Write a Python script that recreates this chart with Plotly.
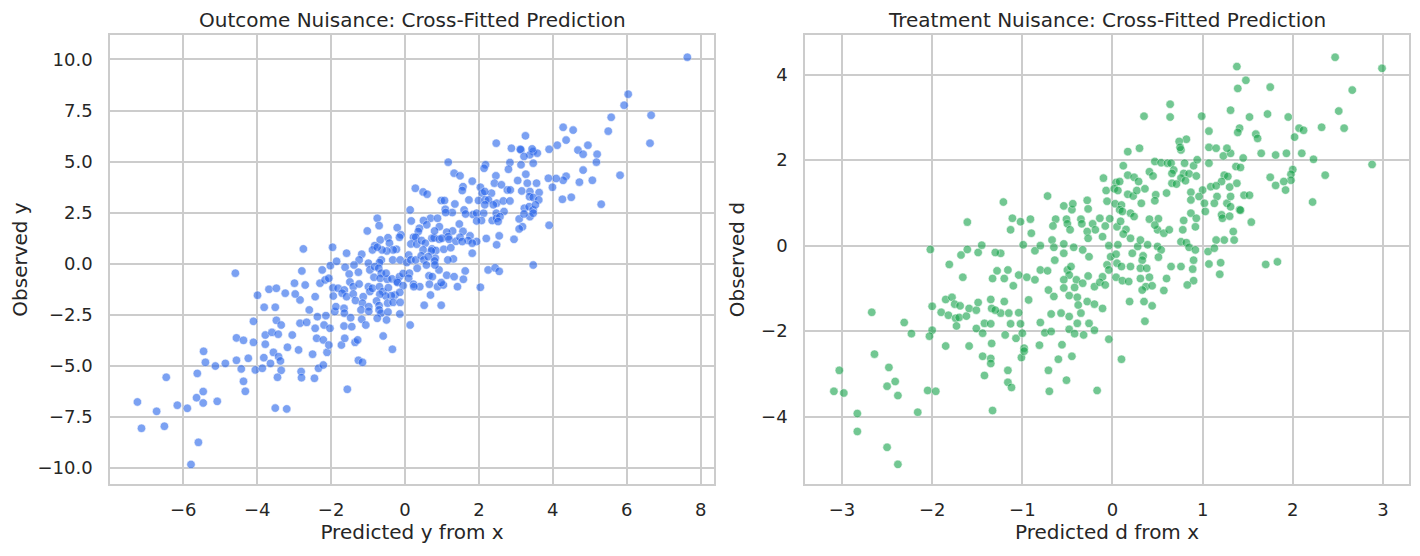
import plotly.graph_objects as go
from plotly.subplots import make_subplots

# Outcome nuisance: predicted y (cross-fitted) vs observed y
outcome_pred = [
    3.14, 3.47, 3.38, 3.22, 3.58, 1.17, 2.18, 2.14, 2.84, 3.14, 2.80, 3.47, 1.33, 1.49, 2.46, 1.82, 2.42, 2.61, 3.27, 3.05,
    3.31, 3.56, 1.57, 1.55, 2.04, 0.28, 0.49, 0.60, 2.77, 2.85, 3.16, 3.38, 3.63, 2.34, 2.09, 2.16, 0.98, 1.07, 1.35, 1.73,
    1.99, 2.17, 2.26, 2.48, 2.66, 2.84, 3.37, 3.47, 3.62, 1.09, 1.28, 1.10, 1.60, 1.84, 1.64, 1.94, 2.13, 2.47, 2.68, 3.23,
    3.36, 3.47, 3.53, 2.16, 2.39, 0.14, 0.69, 0.88, 0.50, 0.93, 0.59, 0.39, 0.36, 0.17, 1.47, 1.29, 1.13, 1.17, 1.57, 1.76,
    1.71, 1.94, 2.07, 1.94, 2.36, 2.48, 2.57, 2.52, 3.09, 3.18, 3.09, 3.38, 3.47, 3.22,
    -0.75, -0.70, -0.21, -0.11, -0.15, -1.02, -0.67, -0.46, -0.42, -0.23, -0.32, -0.82, -0.88, -0.49, -0.62, -0.75, 0.23, 0.29,
    0.16, 0.32, 0.45, 0.55, 0.73, 0.79, 0.93, 1.00, 1.19, 0.80, 0.73, 0.84, 0.71, 0.49, 1.05, 0.82, 1.24, 1.38, 1.49, 1.55,
    1.82, 1.82, 2.20, 2.55, 2.48, 2.95, 3.47,
    -2.75, -1.96, -1.58, -1.17, -1.24, -1.38, -0.64, -0.69, -0.33, -0.13, 0.10, 0.05, 0.16, 0.29, 0.44, 0.51, 0.33, 0.58,
    0.63, 0.80, 1.31, 1.16, 0.92, 0.81, 0.65, 1.13, 1.33, 1.63, 1.58, 0.88, 1.04, 1.42, 2.04, 2.25, 2.44, 2.55,
    -2.79, -2.24, -2.02, -1.85, -1.62, -1.26, -0.99, -0.95, -0.82, -0.71, -0.64, -0.84, -0.67, -0.48, -0.51, -0.35, -0.22,
    -0.15, -0.05, 0.12, 0.10, 0.23, 0.40, 0.74, 0.98, 0.66,
    -2.70, -2.30, -2.16, -2.06, -1.95, -1.81, -1.64, -1.51, -1.49, -1.40, -1.24, -0.99, -0.95, -1.13, -0.88, -0.69, -0.60,
    -0.45, -0.27, -0.20, -0.05, -0.14, -0.37, -0.52, -0.68, 0.69, 0.52, 0.98, 0.24,
    -2.43, -1.94, -1.70, -1.58, -1.40, -1.34, -1.15, -0.98, -1.19, -0.98, -0.77, -0.70, -0.47, -0.32, -0.13, -0.70, -0.65,
    -0.46, -0.14, -2.84, -2.84, -2.66, -2.59, -2.37, -2.14, -1.90, -1.87, -1.65, -1.64, -1.47, -1.65, -1.44, -1.17, -1.06,
    -0.75, -0.50, 0.14, -2.43, -2.19, -2.03,
    -4.59, -3.99, -3.68, -3.48, -3.81, -3.51, -3.24, -2.99, -2.97, -3.48, -4.10, -3.35, -3.78, -3.60, -3.43, -3.05, -4.56,
    -4.37, -4.10, -3.78, -3.18, -5.45, -5.40, -5.13, -4.86, -4.56, -4.24, -4.43, -4.05, -3.86, -3.82, -3.64, -3.56, -3.42,
    -3.37, -3.35, -3.45, -4.37, -4.32, -5.62, -6.46, -5.46, -5.64, -5.08, -5.46, -5.89, -6.16, -6.72, -7.24, -7.13, -6.51,
    -5.59, -5.79, -3.51, -3.20, -2.81, -2.80, -2.45, -2.50, -2.34, -2.21, -2.11, -2.88, -2.39, -2.21, -2.06, -1.56, -1.26,
    -1.15, -1.72, -1.35, -1.28, -0.59, -0.34, -1.63,
    7.64, 6.04, 5.93, 6.66, 6.63, 5.58, 5.50, 4.28, 4.55, 4.36, 4.12, 3.90, 4.95, 4.68, 4.82, 5.20, 5.18, 4.82, 5.07, 4.72,
    5.82, 5.31, 4.36, 4.28, 4.09, 3.88, 3.99, 4.26, 4.50, 3.90, 3.26, 2.47, 2.88, 3.12, 3.44,
]
outcome_obs = [
    5.57, 5.49, 5.33, 5.25, 5.41, 4.97, 4.84, 4.67, 4.95, 4.84, 4.62, 4.92, 4.43, 4.30, 4.30, 4.04, 3.94, 3.86, 4.38, 4.07,
    3.94, 3.94, 3.77, 3.58, 3.74, 3.69, 3.51, 3.40, 3.61, 3.61, 3.56, 3.53, 3.48, 3.45, 3.45, 3.53, 3.09, 3.09, 2.92, 3.12,
    3.09, 3.12, 3.12, 2.96, 3.07, 3.07, 3.28, 3.24, 3.12, 2.66, 2.50, 2.50, 2.63, 2.40, 2.43, 2.47, 2.47, 2.47, 2.55, 2.71,
    2.79, 2.63, 2.88, 2.88, 2.88, 2.63, 2.22, 2.22, 2.11, 1.81, 1.90, 1.73, 1.57, 2.09, 1.94, 1.60, 1.54, 1.32, 1.58, 1.36,
    1.13, 1.08, 2.11, 2.09, 2.11, 2.22, 2.30, 2.06, 2.19, 1.81, 1.70, 2.30, 2.47, 2.43,
    2.22, 1.86, 1.76, 1.41, 1.29, 1.60, 1.16, 1.27, 1.00, 0.70, 0.67, 0.88, 0.67, 0.62, 0.67, 0.80, 1.29, 1.29,
    0.96, 0.95, 1.13, 1.00, 1.24, 1.26, 1.19, 1.24, 1.19, 1.60, 0.72, 0.64, 0.62, 0.67, 0.70, 0.26, 0.78, 1.09, 1.29, 1.08,
    1.00, 0.51, 1.23, 1.36, 0.92, 1.19, -0.07,
    0.72, 0.80, 0.51, 0.46, 0.18, -0.07, 0.18, 0.05, 0.18, 0.18, 0.42, 0.05, 0.18, 0.18, 0.38, 0.18, -0.23, -0.07,
    0.34, 0.13, 0.23, 0.18, -0.31, -0.07, -0.60, -0.57, -0.64, -0.36, -0.77, -1.13, -1.05, -1.13, -1.16, -0.31, -0.21, -0.38,
    -0.36, -0.31, -0.10, 0.11, -0.18, -0.42, 0.02, -0.31, -0.15, -0.23, -0.47, -0.67, -0.72, -0.77, -0.47, -0.75, -0.88,
    -0.64, -0.49, -0.47, -0.72, -1.01, -1.13, -0.64, -0.93, -1.01,
    -1.05, -0.96, -0.80, -0.72, -1.19, -1.21, -1.29, -0.51, -0.90, -1.13, -1.00, -1.13, -1.37, -1.62, -1.21, -1.13, -1.37,
    -1.18, -1.54, -0.93, -1.08, -1.41, -1.57, -1.59, -1.50, -1.54, -2.04, -2.04, -1.13,
    -1.62, -1.59, -1.45, -1.62, -1.49, -1.81, -1.94, -2.11, -2.27, -2.34, -1.83, -2.06, -1.94, -1.90, -1.90, -2.27, -2.43,
    -2.37, -2.47, -1.78, -2.92, -2.88, -2.27, -2.60, -2.55, -2.35, -2.11, -2.19, -2.43, -2.65, -3.06, -3.09, -2.73, -3.01,
    -2.68, -2.76, -3.01, -3.17, -3.01, -3.17,
    -0.47, -1.55, -1.26, -1.21, -2.14, -2.14, -1.45, -0.96, -1.49, -2.78, -2.83, -3.01, -3.50, -3.37, -3.46, -3.50, -3.64,
    -3.76, -3.86, -3.95, -4.10, -4.30, -4.84, -5.02, -4.89, -4.74, -4.64, -5.16, -5.21, -5.13, -4.61, -4.89, -4.35, -4.56,
    -4.77, -5.23, -5.57, -5.77, -6.26, -5.38, -5.57, -6.27, -6.57, -6.75, -6.83, -7.09, -6.94, -7.24, -6.78, -8.07, -7.97,
    -8.76, -9.84, -7.08, -7.12, -5.29, -5.59, -5.62, -4.44, -5.13, -4.97, -4.35, -4.23, -3.66, -3.74, -3.99, -6.16, -4.74,
    -4.84, -3.99, -3.86, -3.74, -3.55, -4.20, -3.66,
    10.11, 8.30, 7.76, 7.27, 5.90, 7.17, 6.49, 6.68, 6.54, 6.05, 5.80, 5.60, 5.80, 5.56, 5.36, 5.36, 4.97, 4.58, 4.08, 3.99,
    4.33, 2.91, 4.28, 4.08, 4.17, 4.18, 3.74, 3.15, 3.25, 1.88, 6.26, 5.90, 5.65, 5.60, 5.62,
]

# Treatment nuisance: predicted d (cross-fitted) vs observed d
treatment_pred = [
    0.17, 0.76, 1.23, 1.31, 0.47, 0.54, 0.61, 0.65, 0.80, 0.90, 0.94, 1.07, 1.37, 0.12, 0.41, 0.45, 0.68, 0.66, 0.17, 0.24,
    0.29, 0.79, 0.85, 0.93, 0.76, 0.81, 0.66, 0.71, 1.24, 1.28, 1.21, 1.38, 1.09, 1.15, -0.10, 0.04, 0.08, -0.07, 0.02, 0.06,
    0.17, 0.23, 0.27, 0.36, 0.48, 0.47, 0.60, 0.87, 1.00, 1.30, 0.87, 0.96, 1.16, 1.13, 1.27, 1.41, 1.31,
    -0.72, -1.21, -0.54, -0.45, -0.44, -0.28, -0.27, -0.06, 0.03, 0.10, 0.08, 0.11, 0.20, 0.24, 0.32, 0.41, 0.51, 0.50,
    0.47, 0.57, 0.63, 0.78, 0.79, 0.87, 0.93, 0.92, 1.02, 1.03, 1.21, 1.22, 1.30, 1.31, 1.34, 1.24, 1.35,
    -1.11, -1.02, -0.91, -1.13, -0.90, -0.63, -0.66, -0.51, -0.50, -0.47, -0.35, -0.34, -0.22, -0.14, -0.03, -0.08, -0.19,
    -0.28, -0.27, -0.11, 0.05, 0.09, 0.15, 0.12, 0.20, 0.28, 0.31, 0.39, 0.50, 0.54, 0.51, 0.34, 0.33, 0.31, 0.41, 0.38,
    0.65, 0.76, 0.76, 0.82, 0.85, 0.90, 0.92, 0.89, 0.90, 0.83, 1.07, 1.19, 1.20, 1.06, 1.15, 1.13,
    -0.99, -0.86, -0.80, -0.67, -0.65, -0.64, -0.54, -0.54, -0.43, -0.33, -0.26, -0.04, -0.02, 0.04, 0.05, 0.10, 0.20,
    0.22, 0.06, -0.06, -0.04, -0.11, 0.04, 0.11, 0.18, 0.31, 0.37, 0.44, 0.33, 0.57, 0.60, 0.35, 0.44, 0.19, 0.36,
    -1.24, -1.16, -1.04, -0.95, -1.20, -1.10, -0.86, -0.80, -0.72, -0.50, -0.46, -0.48, -0.40, -0.33, -0.27, -0.20, -0.14,
    -0.08, -0.54, -0.71, -0.65, -0.54, -0.48, -0.42, -0.39, -0.28, -0.20, -0.11, -0.38,
    -1.20, -1.24, -1.15, -1.04, -0.93, -1.13, -1.02, -1.19, -1.07, -1.00, -0.98, -0.80, -0.68, -0.57, -0.48, -0.35, -0.75,
    -0.68, -0.81, -0.56, -0.48, -0.42, -0.39, -0.32, -0.26, -0.20, -0.04,
    -2.02, -1.81, -1.68, -1.61, -1.61, -1.49, -1.45, -1.30,
    2.47, 2.99, 1.38, 1.48, 1.39, 1.75, 2.66, 0.64, 0.35, 0.64, 0.99, 1.31, 1.52, 1.72, 1.95, 2.51, 2.07, 2.12, 2.32, 2.57,
    2.02, 1.41, 1.39, 1.59, 1.61, 1.07, 0.82, 0.74, 0.75, 0.30, 1.07, 1.15, 1.27, 1.65, 1.81, 1.93, 2.10, 2.23, 1.45, 1.42,
    2.00, 1.98, 1.98, 1.90, 1.75, 1.81, 1.92, 2.36, 2.22, 2.88, 1.54, 1.46, 1.52, 1.42, 1.70, 1.83,
    -2.67, -2.31, -2.23, -2.00, -2.00, -2.03, -1.66, -1.85, -1.78, -1.75, -1.69, -1.90, -1.82, -1.74, -1.70, -1.73, -1.62,
    -1.59, -1.51, -1.49, -1.51, -1.44, -1.42, -1.35, -1.35, -1.34, -1.30, -1.28, -1.33, -1.85, -1.59, -1.34, -2.64, -2.48,
    -3.03, -3.09, -2.98, -2.41, -2.50, -2.38, -2.83, -2.83, -2.16, -2.05, -1.96, -2.50, -2.38, -1.44, -1.35, -1.35, -1.42,
    -1.33, -1.16, -1.16, -1.12, -1.01, -0.98, -0.71, -0.70, -0.51, -0.60, -0.45, -0.17, 0.10,
]
treatment_obs = [
    2.20, 2.24, 2.10, 2.16, 1.97, 1.94, 1.93, 1.93, 1.93, 1.87, 2.01, 1.93, 1.85, 1.87, 1.73, 1.63, 1.77, 1.69, 1.65, 1.60,
    1.50, 1.69, 1.68, 1.63, 1.58, 1.52, 1.46, 1.44, 1.65, 1.62, 1.50, 1.46, 1.38, 1.40, 1.58, 1.48, 1.50, 1.29, 1.33, 1.29,
    1.20, 1.16, 1.29, 1.33, 1.19, 1.05, 1.23, 1.25, 1.30, 1.37, 1.07, 1.15, 1.15, 0.99, 0.99, 0.84, 1.15,
    1.16, 1.02, 0.93, 0.84, 0.98, 1.06, 0.86, 1.04, 0.98, 0.95, 0.84, 0.80, 0.76, 0.68, 0.99, 0.62, 0.63, 0.37,
    0.48, 0.29, 0.37, 0.37, 0.59, 0.76, 0.64, 0.44, 0.99, 0.80, 0.72, 0.64, 0.69, 0.91, 0.33, 0.13, 0.13,
    0.64, 0.56, 0.62, 0.37, 0.29, 0.62, 0.46, 0.62, 0.51, 0.37, 0.62, 0.51, 0.51, 0.64, 0.63, 0.46, 0.37,
    0.33, 0.17, 0.21, 0.44, 0.57, 0.38, 0.27, 0.17, -0.02, 0.13, 0.02, -0.02, -0.10, -0.27, -0.24, -0.34, -0.53, -0.74, -0.53,
    -0.49, -0.49, 0.09, 0.07, -0.04, -0.34, -0.10, -0.55, -0.82, -0.92, -0.43, -0.67, -0.40, -0.14, 0.13, -0.06,
    0.02, -0.12, 0.00, 0.13, -0.04, -0.34, 0.04, -0.18, -0.04, -0.10, -0.26, 0.00, -0.26, -0.20, -0.41, -0.49, -0.49,
    -0.18, 0.02, -0.45, -0.57, -0.73, -0.74, -0.82, -0.84, -0.77, -0.96, -0.94, -1.04, -1.05, -0.77, -1.31, -1.41, -1.31, -1.77,
    -0.18, -0.57, -0.69, -0.74, -0.77, -0.94, -0.80, -0.57, -0.59, -0.57, -0.49, -0.69, -0.80, -0.88, -0.71, -0.96, -0.86,
    -0.92, -0.80, -1.04, -1.19, -0.99, -1.17, -0.98, -1.21, -1.31, -1.37, -1.47, -1.39,
    -1.31, -1.58, -1.58, -1.57, -1.27, -1.83, -1.83, -2.09, -2.17, -2.05, -2.40, -1.80, -1.60, -1.58, -1.66, -1.58, -2.04,
    -2.01, -2.33, -2.32, -1.96, -2.06, -1.82, -2.09, -1.82, -1.98, -2.19,
    -0.09, -0.44, -0.22, -0.09, 0.55, -0.16, 0.01, -0.16,
    4.41, 4.15, 4.19, 3.87, 3.68, 3.71, 3.64, 3.31, 3.03, 3.01, 3.03, 3.17, 3.01, 3.08, 3.01, 3.15, 2.75, 2.70, 2.77, 2.75,
    2.54, 2.75, 2.65, 2.61, 2.51, 2.68, 2.49, 2.44, 2.30, 2.28, 2.30, 2.28, 2.28, 2.16, 2.12, 2.16, 2.16, 2.02, 2.05, 1.83,
    1.78, 1.67, 1.53, 1.50, 1.60, 1.41, 1.30, 1.65, 1.02, 1.90, 0.55, 1.18, 1.18, 0.83, -0.44, -0.38,
    -1.56, -1.80, -2.06, -1.42, -1.98, -2.12, -0.74, -1.26, -1.21, -1.37, -1.41, -1.56, -1.63, -1.70, -1.68, -1.88, -1.65,
    -1.47, -1.51, -1.33, -1.94, -2.05, -1.82, -1.83, -1.26, -1.47, -1.51, -0.59, -0.77, -2.35, -2.35, -2.29, -2.54, -2.85,
    -2.92, -3.41, -3.45, -3.18, -3.29, -3.51, -3.93, -4.35, -3.90, -3.39, -3.41, -4.72, -5.12, -2.59, -2.64, -2.76, -3.04,
    -3.86, -2.92, -3.20, -3.32, -2.62, -2.47, -2.92, -3.41, -3.15, -2.66, -2.59, -3.39, -2.66,
]

titles = ["Outcome Nuisance: Cross-Fitted Prediction", "Treatment Nuisance: Cross-Fitted Prediction"]
x_labels = ["Predicted y from x", "Predicted d from x"]
y_labels = ["Observed y", "Observed d"]
outcome_yticks = [-10.0, -7.5, -5.0, -2.5, 0.0, 2.5, 5.0, 7.5, 10.0]
treatment_yticks = [-4, -2, 0, 2, 4]

TEXT = "#262626"
GRID = "#cccccc"
FONT = "DejaVu Sans"

# panel domains (page has an 8px body margin around the 1404x540 figure)
LEFT_X = [0.0727, 0.5028]
RIGHT_X = [0.5677, 0.9979]
PANEL_Y = [0.1185, 0.950]

fig = make_subplots(rows=1, cols=2, subplot_titles=titles)

fig.add_trace(go.Scatter(
    x=outcome_pred, y=outcome_obs, mode="markers", showlegend=False,
    marker=dict(color="#2563eb", opacity=0.6, size=8.5, line=dict(color="white", width=0.6)),
), row=1, col=1)
fig.add_trace(go.Scatter(
    x=treatment_pred, y=treatment_obs, mode="markers", showlegend=False,
    marker=dict(color="#16a34a", opacity=0.6, size=8.5, line=dict(color="white", width=0.6)),
), row=1, col=2)

axis_style = dict(
    showgrid=True, gridcolor=GRID, gridwidth=1.5, zeroline=False,
    showline=True, linecolor=GRID, linewidth=1.7, mirror=True,
    ticks="",
    tickfont=dict(family=FONT, size=18, color=TEXT),
    title_font=dict(family=FONT, size=20, color=TEXT),
    automargin=False,
)
fig.update_xaxes(**axis_style, ticklabelstandoff=9)
fig.update_yaxes(**axis_style, ticklabelstandoff=12)

fig.update_xaxes(domain=LEFT_X, range=[-7.98, 8.36], dtick=2,
                 title_text=x_labels[0], title_standoff=6, row=1, col=1)
fig.update_yaxes(domain=PANEL_Y, range=[-10.8, 11.2], tickvals=outcome_yticks, tickformat=".1f",
                 title_text=y_labels[0], title_standoff=11, row=1, col=1)
fig.update_xaxes(domain=RIGHT_X, range=[-3.41, 3.29], dtick=1,
                 title_text=x_labels[1], title_standoff=6, row=1, col=2)
fig.update_yaxes(domain=PANEL_Y, range=[-5.58, 4.93], tickvals=treatment_yticks,
                 title_text=y_labels[1], title_standoff=11, row=1, col=2)

# place subplot titles over the re-positioned panels
for ann, dom in zip(fig.layout.annotations, [LEFT_X, RIGHT_X]):
    ann.update(x=sum(dom) / 2, y=PANEL_Y[1], yshift=1, font=dict(family=FONT, size=20, color=TEXT))

fig.update_layout(
    width=1404, height=540,
    margin=dict(l=0, r=0, t=0, b=0),
    paper_bgcolor="white", plot_bgcolor="white",
    font=dict(family=FONT, color=TEXT),
)

fig.write_html("out.html")
